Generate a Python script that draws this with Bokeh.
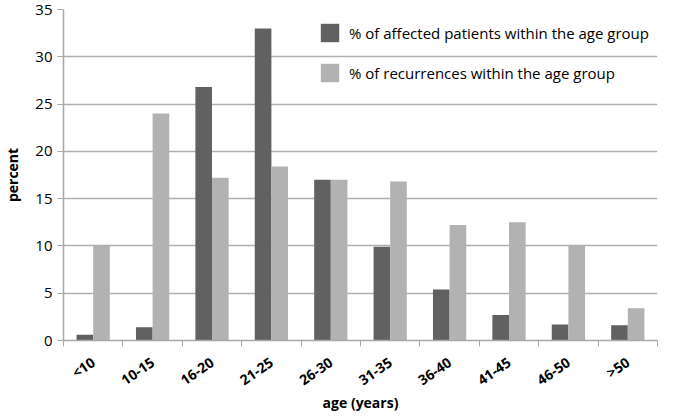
from bokeh.plotting import figure
from bokeh.models import ColumnDataSource, FixedTicker, Range1d, Legend, LegendItem
from bokeh.embed import file_html
from bokeh.resources import INLINE
import numpy as np

categories = ["<10", "10-15", "16-20", "21-25", "26-30", "31-35", "36-40", "41-45", "46-50", ">50"]
affected = [0.6, 1.4, 26.8, 33.0, 17.0, 9.9, 5.4, 2.7, 1.7, 1.6]
recurrences = [10.0, 24.0, 17.2, 18.4, 17.0, 16.8, 12.2, 12.5, 10.0, 3.4]
series_names = ["% of affected patients within the age group", "% of recurrences within the age group"]
y_ticks = [0, 5, 10, 15, 20, 25, 30, 35]

DARK = "#616161"
LIGHT = "#b2b2b2"
GRID = "#b0b0b0"
AXIS = "#a8a8a8"
FONT = "Open Sans"

n = len(categories)
idx = np.arange(n)
bar_w = 0.28

src = ColumnDataSource(dict(
    x1=idx + 0.5 - bar_w / 2, x2=idx + 0.5 + bar_w / 2,
    a=affected, r=recurrences,
))

p = figure(width=669, height=414, output_backend="svg", toolbar_location=None,
           x_range=Range1d(0, n), y_range=Range1d(0, 35))
p.min_border_left = 57
p.min_border_right = 12
p.min_border_top = 9
p.min_border_bottom = 60
p.outline_line_color = None
p.background_fill_color = "white"
p.border_fill_color = "white"

r1 = p.vbar(x="x1", top="a", width=bar_w, bottom=0, source=src, fill_color=DARK, line_color=None)
r2 = p.vbar(x="x2", top="r", width=bar_w, bottom=0, source=src, fill_color=LIGHT, line_color=None)

# x axis
p.xaxis.ticker = FixedTicker(ticks=list(idx + 0.5), minor_ticks=list(range(n + 1)))
p.xaxis.major_label_overrides = {float(i + 0.5): c for i, c in enumerate(categories)}
p.xaxis.major_tick_line_color = None
p.xaxis.major_tick_out = 0
p.xaxis.major_tick_in = 0
p.xaxis.minor_tick_line_color = AXIS
p.xaxis.minor_tick_out = 6
p.xaxis.minor_tick_in = 0
p.xaxis.axis_line_color = AXIS
p.xaxis.axis_line_width = 1.5
p.xaxis.major_label_orientation = 0.6
p.xaxis.major_label_text_font = FONT
p.xaxis.major_label_text_font_style = "bold"
p.xaxis.major_label_text_font_size = "14px"
p.xaxis.major_label_text_color = "black"
p.xaxis.major_label_standoff = 14
p.xaxis.axis_label = "age (years)"
p.xaxis.axis_label_text_font = FONT
p.xaxis.axis_label_text_font_style = "bold"
p.xaxis.axis_label_text_font_size = "14px"
p.xaxis.axis_label_text_color = "black"
p.xaxis.axis_label_standoff = -7

# y axis
p.yaxis.ticker = FixedTicker(ticks=y_ticks)
p.yaxis.minor_tick_line_color = None
p.yaxis.major_tick_line_color = AXIS
p.yaxis.major_tick_out = 6
p.yaxis.major_tick_in = 0
p.yaxis.axis_line_color = AXIS
p.yaxis.axis_line_width = 1.5
p.yaxis.major_label_text_font = FONT
p.yaxis.major_label_text_font_size = "15px"
p.yaxis.major_label_text_color = "black"
p.yaxis.major_label_standoff = 5
p.yaxis.axis_label = "percent"
p.yaxis.axis_label_text_font = FONT
p.yaxis.axis_label_text_font_style = "bold"
p.yaxis.axis_label_text_font_size = "14px"
p.yaxis.axis_label_text_color = "black"
p.yaxis.axis_label_standoff = 10

p.xgrid.grid_line_color = None
p.ygrid.grid_line_color = GRID
p.ygrid.grid_line_width = 1.3

legend = Legend(items=[LegendItem(label=series_names[0], renderers=[r1]),
                       LegendItem(label=series_names[1], renderers=[r2])],
                location=(255, 256))
legend.background_fill_alpha = 0
legend.border_line_color = None
legend.glyph_width = 23
legend.glyph_height = 23
legend.spacing = 17
legend.padding = 0
legend.margin = 0
legend.label_text_font = FONT
legend.label_text_font_size = "15px"
legend.label_text_color = "black"
legend.label_standoff = 8
p.add_layout(legend)

open("out.html", "w").write(file_html(p, INLINE))
